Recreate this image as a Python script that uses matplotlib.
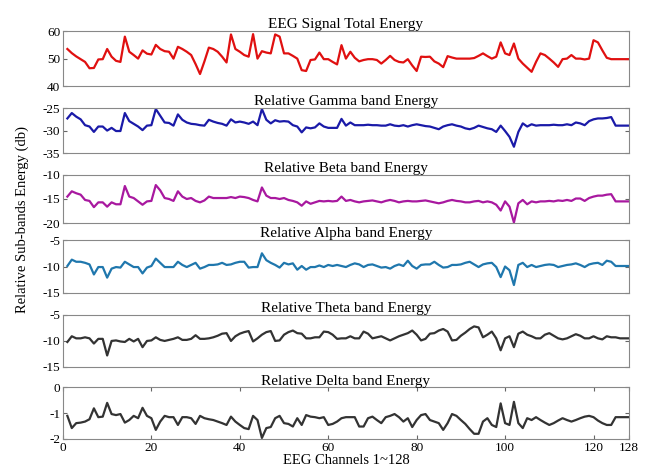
import numpy as np
import matplotlib
matplotlib.use("Agg")
import matplotlib.pyplot as plt

# 各通道數據（從圖中讀取，通道 1~128）
channels = np.arange(1, 129)

total_energy = [
    53.5, 52, 50.8, 49.8, 48.8, 46.5, 46.6, 49.7, 49.8, 53.5,
    50.7, 49.2, 48.8, 58, 52.5, 51.3, 50, 53, 51.8, 51.5,
    55, 53.5, 52.7, 52.5, 50, 54.3, 53.5, 52.5, 51.3, 48,
    44.4, 49, 54, 53.5, 52.5, 50.7, 48.6, 58.8, 53.5, 52.5,
    51.3, 50.7, 58.9, 50, 52.7, 52.2, 51.9, 58.8, 58, 51.9,
    51.9, 51, 50, 45.8, 45.5, 49.5, 49.7, 52.2, 49.8, 49.8,
    48.8, 47.9, 54.9, 50, 52.5, 50.3, 49, 49.5, 49.8, 49.8,
    49.5, 48.2, 49.5, 51, 49.5, 48.8, 48.6, 49.8, 47.5, 45.5,
    50.7, 50.6, 50.7, 49, 48.2, 46.9, 50.9, 50.4, 50, 50,
    50, 50, 50.2, 51, 51.9, 50.9, 50, 50.7, 55.9, 51.9,
    51.3, 55.5, 50, 48.2, 46.7, 45.2, 48.8, 51.9, 51.3, 50,
    48.6, 47, 49.8, 50, 51.3, 50, 50, 49.7, 50, 56.7,
    55.9, 53, 50.3, 49.8, 49.8, 49.8, 49.8, 49.8,
]

gamma = [
    -27.3, -26.1, -26.9, -27.5, -28.8, -29.1, -30.3, -29.1, -29.1, -30,
    -29.4, -30.1, -30.1, -26.1, -27.9, -28.5, -29.1, -29.9, -28.9, -28.8,
    -25.2, -26.7, -28.2, -28.3, -28.9, -26.4, -27.6, -28.2, -28.5, -28.6,
    -28.8, -28.9, -27.6, -28, -28.3, -28.5, -28.9, -27.5, -28.2, -28,
    -28.2, -28.5, -28, -28.8, -25.2, -27.6, -28.4, -27.7, -28, -27.9,
    -28, -28.8, -29.1, -30.4, -29.3, -29.5, -29.3, -28.4, -29.1, -29.4,
    -29.4, -29.4, -27.4, -28.9, -28.2, -28.8, -28.8, -28.8, -28.7, -28.8,
    -28.8, -28.9, -28.9, -28.6, -28.9, -29, -28.8, -29.1, -28.8, -28.6,
    -28.8, -29, -29.1, -29.4, -29.7, -29.1, -28.8, -28.6, -28.9, -29.1,
    -29.5, -29.7, -29.4, -28.9, -29.2, -29.5, -29.7, -30.3, -28.9, -30.1,
    -31.4, -33.6, -30.3, -28.4, -29.1, -28.6, -28.9, -28.8, -28.8, -28.8,
    -28.7, -28.8, -28.8, -28.6, -28.8, -28.2, -28.4, -28.8, -27.9, -27.5,
    -27.3, -27.3, -27.2, -27, -28.9, -28.9, -28.9, -28.9,
]

beta = [
    -14.5, -13.4, -13.8, -14.1, -15.2, -15.4, -16.7, -15.7, -15.7, -16.6,
    -15.7, -16.1, -16.1, -12.3, -14.5, -14.8, -15.5, -16.2, -15.5, -15.4,
    -12.1, -13.2, -14.8, -15, -15.4, -13.4, -14.5, -15, -14.8, -15.4,
    -15.7, -15.3, -14.5, -14.8, -14.8, -14.8, -14.8, -14.6, -14.8, -14.5,
    -14.6, -14.8, -15.2, -15.5, -12.6, -14.3, -14.8, -14.8, -15, -14.8,
    -15.2, -15.4, -15.7, -16.4, -15.5, -16, -15.7, -15.4, -15.5, -15.4,
    -15.5, -15.4, -14.5, -15.4, -15.2, -15.5, -15.7, -15.5, -15.4, -15.3,
    -15.5, -15.7, -15.4, -15.2, -15.4, -15.7, -15.5, -15.4, -15.5, -15.5,
    -15.4, -15.3, -15.5, -15.7, -15.9, -15.7, -15.4, -15.2, -15.4, -15.5,
    -15.7, -15.7, -15.5, -15.4, -15.7, -15.5, -15.7, -16.2, -17.4, -15.5,
    -16.6, -19.9, -15.9, -15.2, -16.1, -15.5, -15.7, -15.5, -15.5, -15.4,
    -15.5, -15.3, -15.4, -15.2, -15.4, -14.9, -14.9, -15.4, -14.8, -14.5,
    -14.3, -14.3, -14.1, -14, -15.5, -15.5, -15.5, -15.5,
]

alpha = [
    -9.9, -8.7, -9.1, -9.1, -9.3, -9.6, -11.5, -10.1, -10.1, -12.1,
    -10.4, -10.1, -10.2, -9.1, -9.6, -10.1, -10.1, -11.3, -10.2, -9.9,
    -8.5, -9.3, -10.1, -10.1, -10.1, -9.1, -9.7, -10.1, -9.7, -9.3,
    -10.4, -10.1, -9.7, -9.7, -9.6, -9.3, -9.7, -9.6, -9.3, -9.1,
    -9.1, -10.2, -10.1, -10.1, -7.5, -8.8, -9.3, -9.7, -10.2, -9.3,
    -9.6, -9.4, -10.6, -9.9, -10.6, -10.1, -10.1, -9.8, -10.1, -9.7,
    -9.9, -9.7, -9.9, -10.1, -9.7, -9.4, -9.6, -10.1, -9.7, -9.6,
    -9.9, -10.2, -10.1, -10.4, -9.9, -9.6, -9.9, -8.9, -9.9, -10.4,
    -9.7, -9.6, -9.6, -9.1, -9.7, -10.2, -10.1, -9.7, -9.7, -9.6,
    -9.3, -9.1, -9.6, -10.1, -9.6, -9.4, -9.3, -10.1, -12, -10,
    -10.7, -13.5, -9.7, -9.3, -10.1, -9.7, -10.1, -9.9, -9.7, -9.6,
    -9.7, -10.1, -9.9, -9.7, -9.6, -9.4, -9.7, -10.1, -9.6, -9.4,
    -9.3, -9.7, -8.9, -9.1, -9.9, -9.9, -9.9, -9.9,
]

theta = [
    -10.2, -9.1, -9.5, -9.5, -9.3, -9.5, -10.5, -9.6, -9.6, -12.8,
    -10, -9.9, -10.1, -10.2, -9.6, -10.1, -9.6, -11.2, -10, -9.9,
    -9.3, -9.8, -10, -9.8, -9.6, -9.3, -9.8, -9.8, -9.6, -8.9,
    -9.6, -9.6, -9.5, -9.3, -9, -8.6, -8.5, -10, -9.1, -8.6,
    -8.3, -8.1, -10.1, -9.5, -8.8, -8.3, -8.1, -10, -9.9, -8.8,
    -8.3, -8, -8.5, -8.6, -9.5, -9.5, -9.3, -9.3, -8.2, -8.3,
    -8.8, -9.6, -9.5, -9.5, -9.1, -9.5, -9.5, -8.2, -8.6, -9.5,
    -9.3, -9.1, -9.5, -9.9, -9.5, -9.1, -8.8, -8.5, -8, -8.8,
    -9.9, -9.6, -8.6, -8.5, -8, -7.7, -8.2, -9.9, -9.8, -9,
    -8.4, -7.7, -7.2, -7.4, -9.3, -8.8, -8.2, -9.5, -11.8, -9.5,
    -9.1, -11.2, -8.6, -8.2, -8.8, -9.1, -9.5, -9.5, -8.8, -8.5,
    -9, -9.5, -9.7, -9.5, -9.1, -8.7, -9, -9.5, -9.5, -9.1,
    -9.5, -9.7, -9.1, -9.3, -9.3, -9.5, -9.5, -9.5,
]

delta = [
    -1.11, -1.58, -1.39, -1.37, -1.33, -1.24, -0.82, -1.16, -1.14, -0.61,
    -1.04, -1.08, -1.04, -1.37, -1.27, -1.11, -1.2, -0.8, -1.11, -1.2,
    -1.65, -1.33, -1.11, -1.16, -1.16, -1.46, -1.16, -1.16, -1.2, -1.42,
    -1.11, -1.2, -1.24, -1.27, -1.33, -1.39, -1.46, -1.14, -1.33, -1.46,
    -1.58, -1.62, -1.11, -1.27, -1.96, -1.58, -1.54, -1.2, -1.11, -1.39,
    -1.42, -1.52, -1.2, -1.46, -1.08, -1.14, -1.16, -1.2, -1.16, -1.46,
    -1.42, -1.33, -1.2, -1.16, -1.16, -1.16, -1.52, -1.52, -1.2, -1.14,
    -1.27, -1.39, -1.16, -1.11, -1.04, -1.16, -1.33, -1.2, -1.54, -1.27,
    -1.08, -1.04, -1.27, -1.33, -1.39, -1.65, -1.39, -1.04, -1.11, -1.27,
    -1.42, -1.62, -1.8, -1.8, -1.33, -1.2, -1.46, -1.54, -0.63, -1.39,
    -1.46, -0.57, -1.39, -1.58, -1.2, -1.27, -1.16, -1.27, -1.37, -1.46,
    -1.39, -1.29, -1.2, -1.27, -1.33, -1.27, -1.2, -1.14, -1.11, -1.16,
    -1.29, -1.39, -1.46, -1.46, -1.16, -1.16, -1.16, -1.16,
]

titles = [
    "EEG Signal Total Energy",
    "Relative Gamma band Energy",
    "Relative Beta band Energy",
    "Relative Alpha band Energy",
    "Relative Theta band Energy",
    "Relative Delta band Energy",
]
series = [total_energy, gamma, beta, alpha, theta, delta]
colors = ["#e01010", "#1a1aa8", "#a8189f", "#1f77ad", "#333333", "#333333"]
ylims = [(40, 60), (-35, -25), (-20, -10), (-15, -5), (-15, -5), (-2, 0)]
yticks = [[40, 50, 60], [-35, -30, -25], [-20, -15, -10],
          [-15, -10, -5], [-15, -10, -5], [-2, -1, 0]]
xtick_vals = [0, 20, 40, 60, 80, 100, 120, 128]

# 每個子圖的位置（圖像座標比例）
boxes = [
    (0.097, 0.816, 0.872, 0.1175),
    (0.097, 0.673, 0.872, 0.096),
    (0.097, 0.5235, 0.872, 0.1026),
    (0.097, 0.374, 0.872, 0.113),
    (0.097, 0.216, 0.872, 0.111),
    (0.097, 0.062, 0.872, 0.111),
]

plt.rcParams["font.family"] = ["Liberation Serif", "DejaVu Serif"]
plt.rcParams["axes.unicode_minus"] = False  # MATLAB 風格的減號

fig = plt.figure(figsize=(6.49, 4.68), dpi=100)

for i in range(6):
    ax = fig.add_axes(boxes[i])
    ax.plot(channels, series[i], color=colors[i], linewidth=1.6)
    ax.set_xlim(0, 128)
    ax.set_ylim(*ylims[i])
    ax.set_yticks(yticks[i])
    ax.set_title(titles[i], fontsize=11, pad=1.5)
    for sp in ax.spines.values():
        sp.set_color("#888888")
        sp.set_linewidth(0.8)
    ax.tick_params(axis="y", direction="in", length=3, left=True, right=True,
                   labelsize=9.5, pad=2, color="#666666")
    if i == 5:
        ax.set_xticks(xtick_vals)
        ax.tick_params(axis="x", direction="in", length=3, top=True, bottom=True,
                       labelsize=9.5, pad=2, color="#666666")
        ax.set_xlabel("EEG Channels 1~128", fontsize=10.5, labelpad=0)
    else:
        ax.set_xticks([])

fig.text(0.034, 0.53, "Relative Sub-bands Energy (db)", rotation=90,
         ha="center", va="center", fontsize=10.5)

fig.savefig("out.png", dpi=100)
